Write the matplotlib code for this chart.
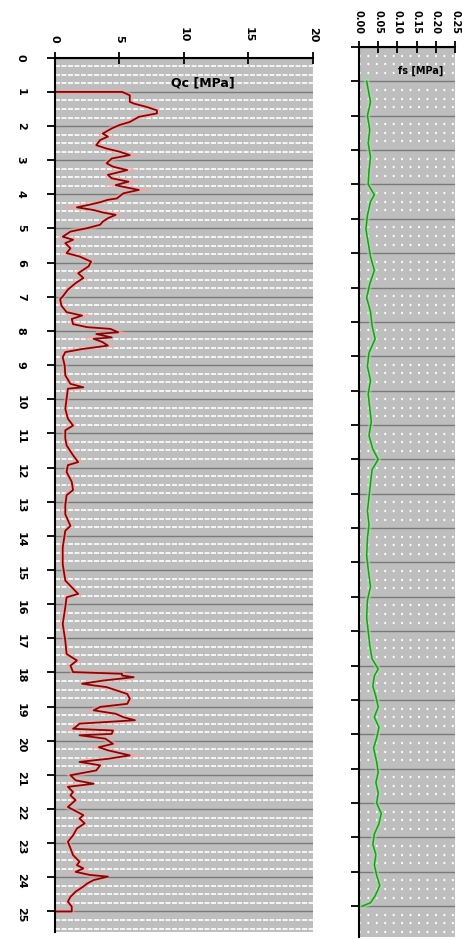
import numpy as np
import matplotlib.pyplot as plt

# Ensaio CPT: resistência de ponta (Qc) e atrito lateral (fs) ao longo da profundidade
qc_prof = [1.00, 1.00, 1.10, 1.29, 1.34, 1.44, 1.54, 1.63, 1.73, 1.88, 1.97, 2.07, 2.22, 2.31,
           2.41, 2.56, 2.66, 2.75, 2.85, 2.95, 3.09, 3.19, 3.29, 3.43, 3.53, 3.63, 3.73, 3.78,
           3.87, 3.97, 4.12, 4.16, 4.23, 4.31, 4.38, 4.46, 4.53, 4.60, 4.70, 4.80, 4.89, 4.99,
           5.09, 5.24, 5.33, 5.43, 5.58, 5.72, 5.82, 5.97, 6.11, 6.31, 6.45, 6.60, 6.79, 6.99,
           7.07, 7.26, 7.45, 7.55, 7.65, 7.80, 7.89, 7.94, 8.04, 8.09, 8.19, 8.23, 8.33, 8.43,
           8.53, 8.62, 8.77, 9.01, 9.30, 9.55, 9.65, 9.69, 9.99, 10.28, 10.57, 10.77, 10.91,
           11.15, 11.35, 11.64, 11.84, 11.93, 12.13, 12.42, 12.66, 12.81, 13.10, 13.37, 13.71,
           13.85, 14.34, 14.83, 15.31, 15.70, 15.80, 16.09, 16.58, 17.07, 17.46, 17.65, 17.80,
           17.99, 18.04, 18.09, 18.14, 18.24, 18.33, 18.38, 18.43, 18.53, 18.63, 18.77, 18.92,
           19.01, 19.11, 19.21, 19.31, 19.40, 19.50, 19.60, 19.65, 19.70, 19.80, 19.84, 19.94,
           20.09, 20.19, 20.28, 20.43, 20.53, 20.62, 20.72, 20.87, 21.01, 21.16, 21.26, 21.35,
           21.50, 21.60, 21.74, 21.94, 22.08, 22.18, 22.28, 22.42, 22.57, 22.77, 22.96, 23.15,
           23.35, 23.54, 23.64, 23.74, 23.84, 23.93, 23.98, 24.08, 24.18, 24.27, 24.42, 24.57,
           24.71, 24.86, 25.00, 25.00]
qc_val = [0.0, 5.2, 5.8, 5.8, 6.1, 7.1, 7.9, 7.9, 6.5, 5.8, 5.0, 4.4, 3.7, 4.1,
          3.5, 3.2, 4.0, 5.0, 5.8, 4.4, 4.0, 4.5, 5.6, 4.1, 4.4, 5.7, 4.7, 5.3,
          6.5, 5.3, 4.8, 4.1, 3.5, 2.6, 1.7, 3.0, 3.7, 4.7, 4.1, 3.7, 3.5, 2.5,
          1.2, 0.6, 1.4, 0.8, 1.2, 0.9, 1.9, 2.8, 2.6, 1.8, 2.2, 1.6, 1.0, 0.6,
          0.4, 0.5, 0.9, 2.1, 1.3, 1.4, 2.5, 4.3, 4.9, 3.2, 4.4, 3.0, 3.7, 4.1,
          2.1, 0.8, 0.6, 0.75, 0.8, 1.2, 2.2, 1.0, 0.9, 0.8, 1.0, 1.4, 0.8,
          0.8, 0.9, 1.4, 1.8, 1.0, 0.9, 1.3, 1.4, 0.9, 0.8, 0.8, 1.2,
          0.8, 0.6, 0.6, 0.8, 1.8, 0.9, 0.8, 0.6, 0.8, 0.9, 1.7, 1.2,
          1.4, 5.2, 5.2, 6.1, 3.7, 2.1, 3.0, 4.0, 4.8, 5.6, 5.8, 5.6,
          3.5, 3.0, 4.7, 5.3, 6.2, 1.9, 1.6, 1.4, 4.5, 4.4, 1.9, 3.9,
          4.5, 3.4, 4.1, 5.8, 4.1, 1.9, 3.5, 3.2, 1.2, 1.6, 3.0, 1.0,
          1.4, 1.2, 1.6, 1.0, 1.7, 2.2, 1.9, 2.3, 1.7, 1.4, 1.0, 1.2,
          1.4, 1.9, 1.7, 2.2, 1.6, 2.7, 4.1, 3.0, 2.5, 2.2, 1.6, 1.2,
          1.0, 1.3, 1.3, 0.0]

fs_prof = [1.0, 1.3, 1.6, 2.0, 2.4, 2.8, 3.2, 3.6, 4.0, 4.3, 4.5, 4.9, 5.3, 5.7, 6.1, 6.5,
           6.9, 7.3, 7.7, 8.1, 8.5, 8.9, 9.3, 9.7, 10.1, 10.5, 10.9, 11.3, 11.7, 12.0, 12.3,
           12.7, 13.1, 13.5, 13.9, 14.3, 14.8, 15.2, 15.7, 16.1, 16.6, 17.0, 17.4, 17.8, 18.1,
           18.3, 18.6, 18.9, 19.2, 19.5, 19.8, 20.1, 20.4, 20.8, 21.1, 21.4, 21.7, 22.0, 22.3,
           22.6, 22.9, 23.2, 23.5, 23.8, 24.1, 24.4, 24.7, 24.9, 25.0]
fs_val = [0.020, 0.025, 0.030, 0.022, 0.028, 0.024, 0.030, 0.026, 0.024, 0.040, 0.030, 0.022,
          0.018, 0.024, 0.030, 0.040, 0.028, 0.020, 0.030, 0.034, 0.042, 0.026, 0.022, 0.030,
          0.024, 0.028, 0.032, 0.026, 0.036, 0.050, 0.034, 0.030, 0.026, 0.022, 0.026, 0.022,
          0.020, 0.024, 0.030, 0.022, 0.020, 0.024, 0.028, 0.034, 0.050, 0.040, 0.036, 0.044,
          0.050, 0.040, 0.052, 0.046, 0.038, 0.046, 0.050, 0.044, 0.050, 0.046, 0.058, 0.052,
          0.040, 0.036, 0.044, 0.040, 0.046, 0.054, 0.042, 0.030, 0.008]

prof_ticks = list(range(0, 26))
qc_ticks = [0, 5, 10, 15, 20]
fs_ticks = [0.0, 0.05, 0.10, 0.15, 0.20, 0.25]
fs_tick_labels = ['0.00', '0.05', '0.10', '0.15', '0.20', '0.25']

fundo = '#bebebe'
grade = '#7a7a7a'

fig = plt.figure(figsize=(4.62, 9.39), dpi=100)
ax1 = fig.add_axes([0.119, 0.0075, 0.5585, 0.931])
ax2 = fig.add_axes([0.777, 0.002, 0.208, 0.948])


def formata_eixo(ax, ymax, pad_top):
    ax.set_facecolor(fundo)
    ax.set_ylim(ymax, 0)
    ax.set_yticks(prof_ticks)
    ax.set_yticks(np.arange(0, ymax, 0.25), minor=True)
    ax.xaxis.tick_top()
    ax.tick_params(axis='x', which='major', direction='inout', length=8, width=1.3,
                   labelrotation=-90, labelsize=8, pad=pad_top)
    ax.tick_params(axis='y', which='major', direction='out', length=6, width=1.3,
                   labelrotation=-90, labelsize=8, pad=15)
    ax.tick_params(which='minor', length=0)
    for lb in ax.get_xticklabels() + ax.get_yticklabels():
        lb.set_fontweight('bold')
    for s in ['right', 'bottom']:
        ax.spines[s].set_visible(False)
    for s in ['left', 'top']:
        ax.spines[s].set_linewidth(1.5)
    ax.set_axisbelow(True)
    ax.grid(which='major', axis='y', color=grade, lw=1.0)


# Painel Qc
ax1.set_xlim(0, 20)
ax1.set_xticks(qc_ticks)
formata_eixo(ax1, 25.6, 7)
ax1.grid(which='minor', axis='y', color='white', lw=1.2, ls=(0, (3.0, 0.9)))
ax1.plot(qc_val, qc_prof, color='#f2a8a8', lw=4, alpha=0.6, solid_joinstyle='miter')
ax1.plot(qc_val, qc_prof, color='#7d0a0a', lw=1.3)
ax1.text(11.5, 0.75, 'Qc [MPa]', fontsize=9, fontweight='bold', ha='center', va='center')

# Painel fs
ax2.set_xlim(0, 0.25)
ax2.set_xticks(fs_ticks)
formata_eixo(ax2, 25.9, 5)
ax2.set_xticklabels(fs_tick_labels, rotation=-90, fontsize=7, fontweight='bold')
ax2.set_yticklabels([])
ax2.grid(which='minor', axis='y', color='white', lw=1.6, ls=(0, (0.8, 3.0)))
ax2.plot(fs_val, fs_prof, color='#9be39b', lw=4, alpha=0.6)
ax2.plot(fs_val, fs_prof, color='#2f8f2f', lw=1.1)
ax2.text(0.16, 0.7, 'fs [MPa]', fontsize=7, fontweight='bold', ha='center', va='center')

plt.savefig('out.png', dpi=100)
